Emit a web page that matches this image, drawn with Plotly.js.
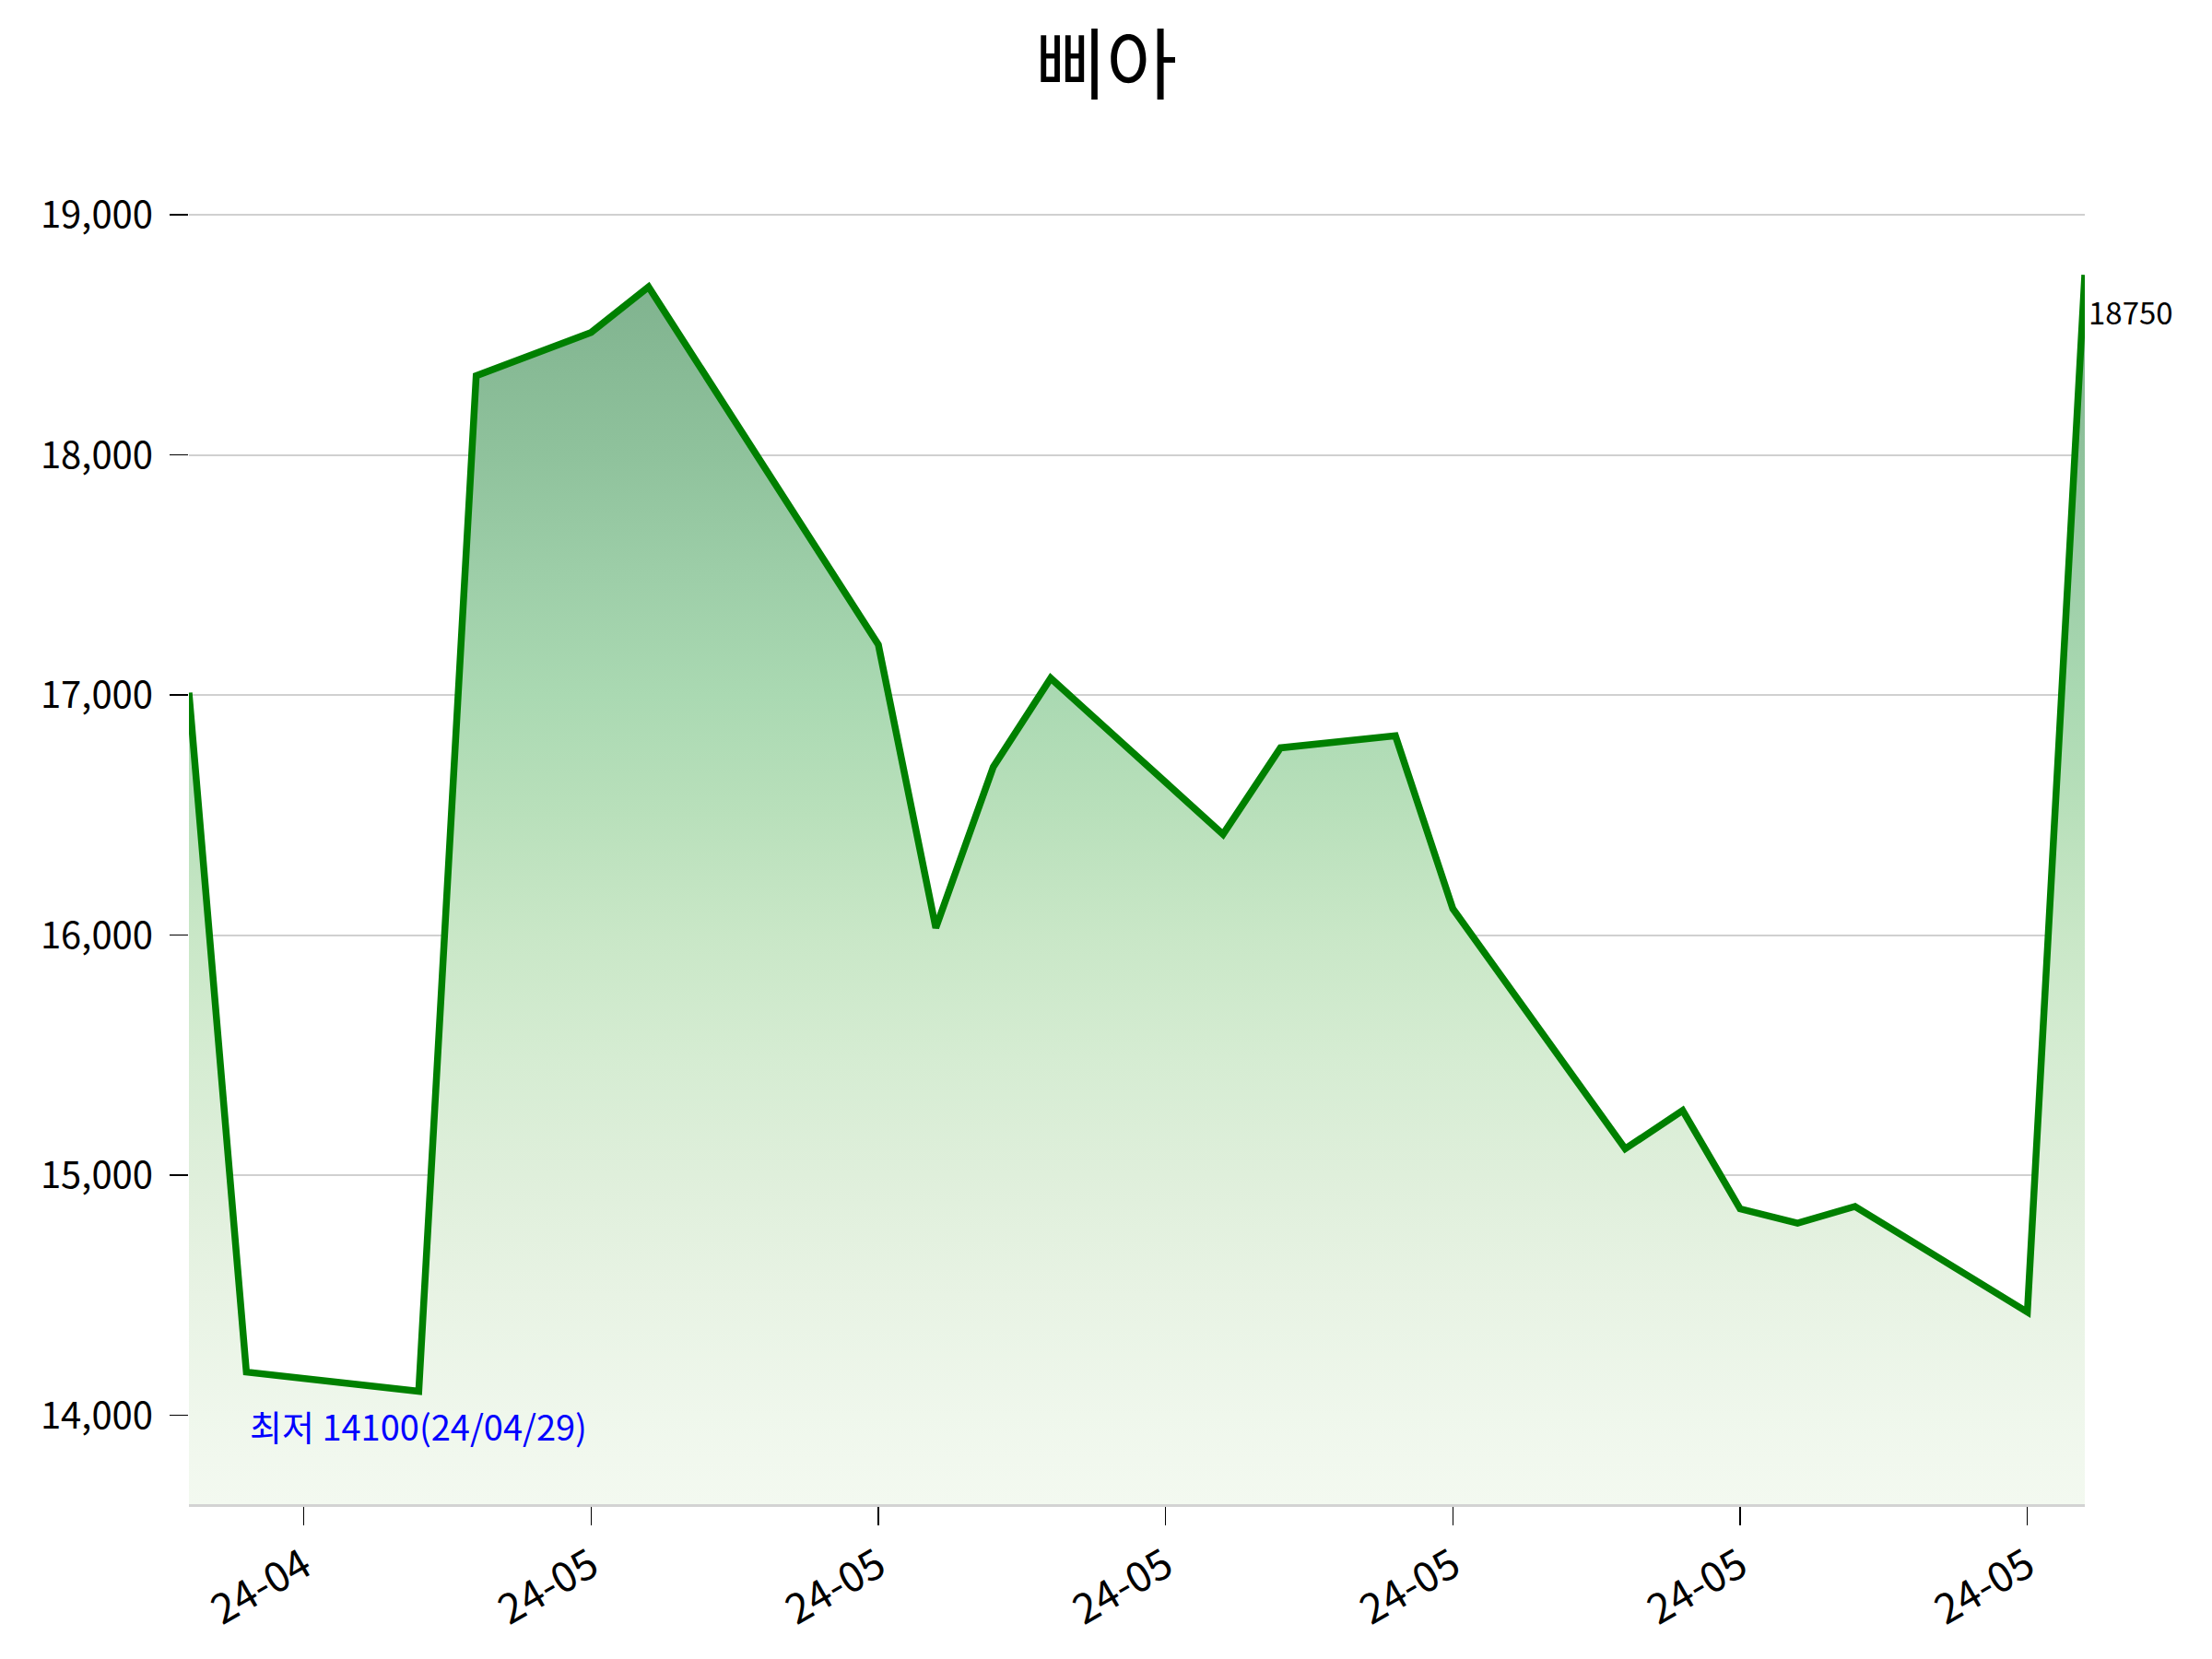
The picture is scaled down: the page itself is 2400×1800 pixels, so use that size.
<!DOCTYPE html>
<html>
<head>
<meta charset="utf-8">
<script src="https://cdn.plot.ly/plotly-3.0.1.min.js"></script>
<style>html,body{margin:0;padding:0;background:#fff;}#chart{width:2400px;height:1800px;}</style>
</head>
<body>
<div id="chart"></div>
<script>
const title = '삐아';
const dates = ['2024-04-25','2024-04-26','2024-04-29','2024-04-30','2024-05-02','2024-05-03','2024-05-07','2024-05-08','2024-05-09','2024-05-10','2024-05-13','2024-05-14','2024-05-16','2024-05-17','2024-05-20','2024-05-21','2024-05-22','2024-05-23','2024-05-24','2024-05-27','2024-05-28'];
const prices = [17010,14180,14100,18330,18510,18700,17210,16030,16700,17070,16420,16780,16830,16110,15110,15270,14860,14800,14870,14430,18750];
const tickDates = ['2024-04-27','2024-05-02','2024-05-07','2024-05-12','2024-05-17','2024-05-22','2024-05-27'];
const tickLabels = ['24-04','24-05','24-05','24-05','24-05','24-05','24-05'];
const yTicks = [14000,15000,16000,17000,18000,19000];
const minLabel = '최저 14100(24/04/29)';
const minDate = '2024-04-29';
const minValue = 14100;
const lastLabel = '18750';

const FONT = '"Noto Sans CJK KR", "Noto Sans", sans-serif';
const yBottom = 13630;
const yTop = 19127;

const trace = {
  x: dates,
  y: prices,
  type: 'scatter',
  mode: 'lines',
  line: {color: '#008000', width: 7.5},
  fill: 'tozeroy',
  fillgradient: {
    type: 'vertical',
    start: yBottom,
    stop: Math.max(...prices),
    colorscale: [
      [0.0, '#f3f9f0'],
      [0.072, '#eff7ec'],
      [0.17, '#e8f3e4'],
      [0.268, '#dfefdb'],
      [0.365, '#d5ecd2'],
      [0.463, '#c9e7c7'],
      [0.561, '#b9e0bb'],
      [0.658, '#aad9b2'],
      [0.756, '#9dcea8'],
      [0.854, '#8fc29c'],
      [1.0, '#7fb28e']
    ]
  },
  hoverinfo: 'skip',
  showlegend: false
};

const layout = {
  width: 2400,
  height: 1800,
  paper_bgcolor: '#ffffff',
  plot_bgcolor: '#ffffff',
  margin: {l: 205, r: 138, t: 200, b: 168, pad: 0},
  font: {family: FONT, color: '#000000', size: 42},
  title: {
    text: title,
    font: {family: FONT, size: 84, color: '#000000'},
    x: 0.5, xref: 'container', xanchor: 'center',
    y: 1 - 72/1800, yref: 'container', yanchor: 'middle'
  },
  xaxis: {
    type: 'date',
    range: [dates[0], dates[dates.length - 1]],
    tickmode: 'array',
    tickvals: tickDates,
    ticktext: tickLabels,
    tickangle: -30,
    ticks: 'outside',
    ticklen: 20,
    tickwidth: 1.5,
    tickcolor: '#000000',
    tickfont: {family: FONT, size: 45, color: '#000000'},
    showgrid: false,
    zeroline: false,
    showline: true,
    linecolor: '#d3d3d3',
    linewidth: 3,
    fixedrange: true
  },
  yaxis: {
    range: [yBottom, yTop],
    tickmode: 'array',
    tickvals: yTicks,
    tickformat: ',d',
    ticks: 'outside',
    ticklen: 20,
    tickwidth: 1.5,
    tickcolor: '#000000',
    ticklabelstandoff: 10,
    tickfont: {family: FONT, size: 40, color: '#000000'},
    showgrid: true,
    gridcolor: '#d0d0d0',
    gridwidth: 2,
    zeroline: false,
    showline: false,
    fixedrange: true
  },
  annotations: [
    {
      x: dates[dates.length - 1], y: prices[prices.length - 1],
      xref: 'x', yref: 'y',
      text: lastLabel,
      showarrow: false,
      xanchor: 'left', yanchor: 'middle',
      xshift: 2, yshift: -40,
      font: {family: FONT, size: 33, color: '#000000'}
    },
    {
      x: minDate, y: minValue,
      xref: 'x', yref: 'y',
      text: minLabel,
      showarrow: false,
      xanchor: 'center', yanchor: 'middle',
      yshift: -37,
      font: {family: FONT, size: 38, color: '#0000ff'}
    }
  ]
};

Plotly.newPlot('chart', [trace], layout, {displayModeBar: false, staticPlot: true});
</script>
</body>
</html>
